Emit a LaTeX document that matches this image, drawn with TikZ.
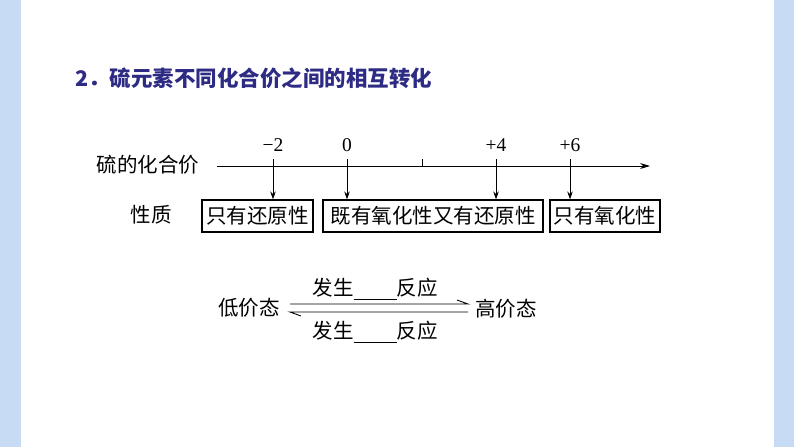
\documentclass[tikz,border=0pt]{standalone}
\usepackage{fontspec}
\usetikzlibrary{arrows.meta}
\newfontfamily\cjk{Noto Sans CJK SC}
\newfontfamily\tms{Liberation Serif}
\definecolor{side}{HTML}{C7DCF4}
\definecolor{titleblue}{HTML}{2D2B83}
\begin{document}
\begin{tikzpicture}[x=1pt,y=-1pt,
  lbl/.style={inner sep=0pt, font=\cjk\fontsize{20.5}{22}\selectfont},
  num/.style={inner sep=0pt, font=\tms\fontsize{19.5}{21}\selectfont},
  propbox/.style={draw, line width=1.2pt, minimum height=32pt, inner sep=0pt, font=\cjk\fontsize{20.5}{22}\selectfont},
  arr/.style={-{Stealth[length=8pt,width=5.5pt]}, line width=0.8pt},
  axisline/.style={line width=0.9pt},
  eqline/.style={line width=0.9pt}]
\fill[white] (0,0) rectangle (794,447);
\fill[side] (0,0) rectangle (21,447);
\fill[side] (774,0) rectangle (794,447);
\useasboundingbox (0,0) rectangle (794,447);

% title
\node[anchor=west, inner sep=0pt, text=titleblue, font=\cjk\bfseries\fontsize{21.5}{24}\selectfont] (title) at (75,78) {2．硫元素不同化合价之间的相互转化};

% axis
\node[lbl] (axname) at (148,165) {硫的化合价};
\node[lbl] (propname) at (151,215) {性质};
\coordinate (a0) at (217,166);
\coordinate (a1) at (650,166);
\draw[axisline, -{Stealth[length=10pt,width=6pt]}] (a0) -- (a1);

\coordinate (t1) at (273,166);
\coordinate (t2) at (347,166);
\coordinate (t3) at (422,166);
\coordinate (t4) at (496,166);
\coordinate (t5) at (570,166);
\foreach \t in {t1,t2,t3,t4,t5} \draw[axisline] (\t) -- ++(0,-7);

\node[num] (n1) at (273,145) {−2};
\node[num] (n2) at (347,145) {0};
\node[num] (n4) at (496,145) {+4};
\node[num] (n6) at (570,145) {+6};

% property boxes
\node[propbox, minimum width=111pt] (b1) at (257.5,216) {只有还原性};
\node[propbox, minimum width=220pt] (b2) at (433,216) {既有氧化性又有还原性};
\node[propbox, minimum width=110pt] (b3) at (605,216) {只有氧化性};

\draw[arr] (t1) -- (t1 |- b1.north);
\draw[arr] (t2) -- (t2 |- b2.north);
\draw[arr] (t4) -- (t4 |- b2.north);
\draw[arr] (t5) -- (t5 |- b3.north);

% lower equilibrium
\node[lbl] (low) at (249,308) {低价态};
\node[lbl] (high) at (506,309) {高价态};
\coordinate (u0) at (290,304);
\coordinate (u1) at (468,304);
\coordinate (d0) at (468,312);
\coordinate (d1) at (290,312);
\draw[eqline, line join=miter] (u0) -- (u1) -- ++(-11,-4);
\draw[eqline, line join=miter] (d0) -- (d1) -- ++(11,4);

\node[lbl, anchor=base] (up) at (375,295) {发生\rule[-4.5pt]{43pt}{0.8pt}反应};
\node[lbl, anchor=base] (dn) at (375,338) {发生\rule[-4.5pt]{43pt}{0.8pt}反应};
\end{tikzpicture}
\end{document}
